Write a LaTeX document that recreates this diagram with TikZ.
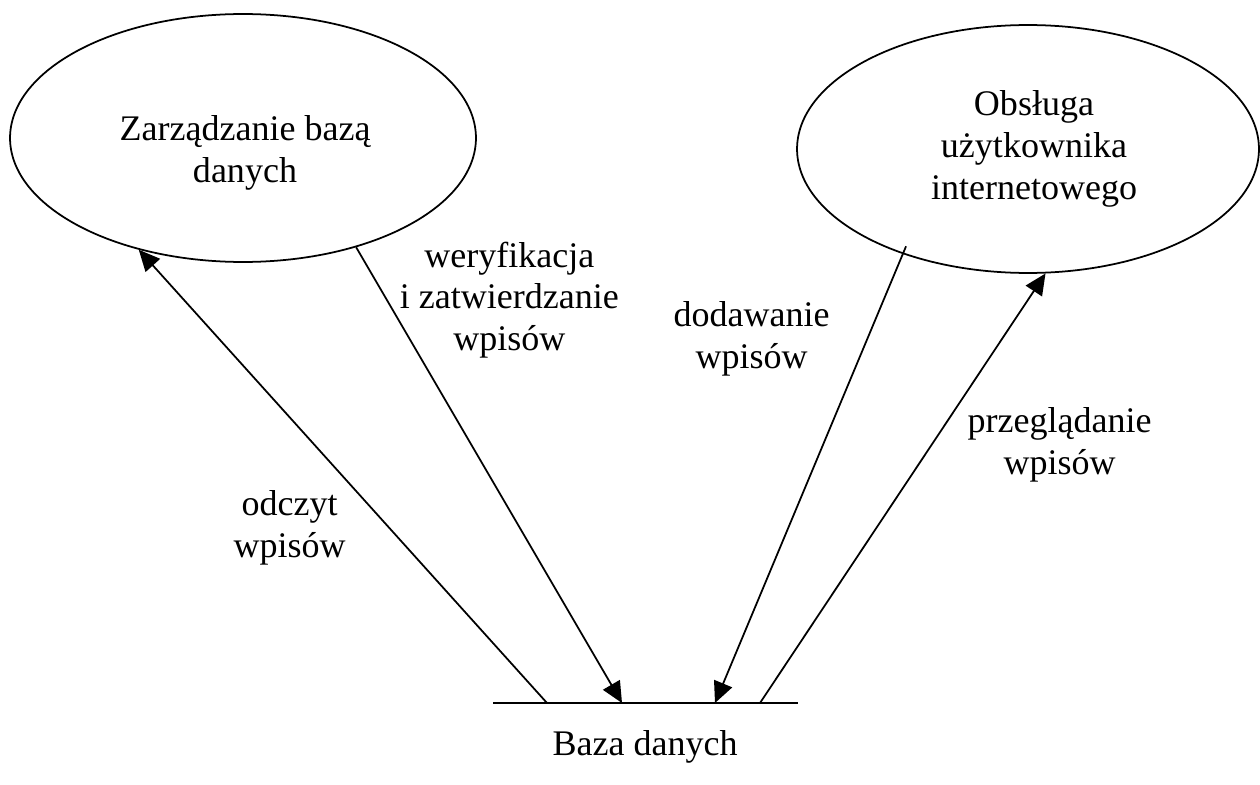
\documentclass[tikz,border=0pt]{standalone}
\usepackage{fontspec}
\setmainfont{Liberation Serif}
\usetikzlibrary{shapes.geometric,arrows.meta}

\tikzset{
  proc/.style={draw,ellipse,line width=1pt,minimum width=9.32cm,minimum height=4.96cm,inner sep=0pt},
  txt/.style={align=center,inner sep=3pt,font=\fontsize{20.5}{23.8}\selectfont},
}

\begin{document}
\begin{tikzpicture}[x=0.02cm,y=-0.02cm,line width=1pt,>={Triangle[length=12pt,width=11pt]}]
      \useasboundingbox (0,0) rectangle (1260,784);

      \node[proc] (zarz) at (243,138) {};
      \node[txt] (zarzt) at (245,153) {Zarządzanie bazą\\danych};
      \node[proc,minimum width=9.24cm] (obsl) at (1028,149) {};
      \node[txt] (obslt) at (1034,149) {Obsługa\\użytkownika\\internetowego};

      \coordinate (db1) at (493,703);
      \coordinate (db2) at (798,703);
      \coordinate (odcz) at (547,703);
      \coordinate (wer) at (622,703);
      \coordinate (dod) at (715,703);
      \coordinate (prz) at (760,703);
      \draw (db1) -- (db2);
      \node[txt] (baza) at (645,747) {Baza danych};

      \draw[->] (odcz) -- node[txt,pos=0.386,left=0.754cm] {odczyt\\wpisów} (zarz.227.4);
      \draw[->] (zarz.316.7) -- node[txt,pos=0.116,right=3.8pt] {weryfikacja\\i zatwierdzanie\\wpisów} (wer);
      \draw[->,shorten <=-4.8pt] (obsl.220.4) -- node[txt,pos=0.188,left=0.634cm] {dodawanie\\wpisów} (dod);
      \draw[->] (prz) -- node[txt,pos=0.602,right=0.594cm] {przeglądanie\\wpisów} (obsl.278.7);
    \end{tikzpicture}
\end{document}
